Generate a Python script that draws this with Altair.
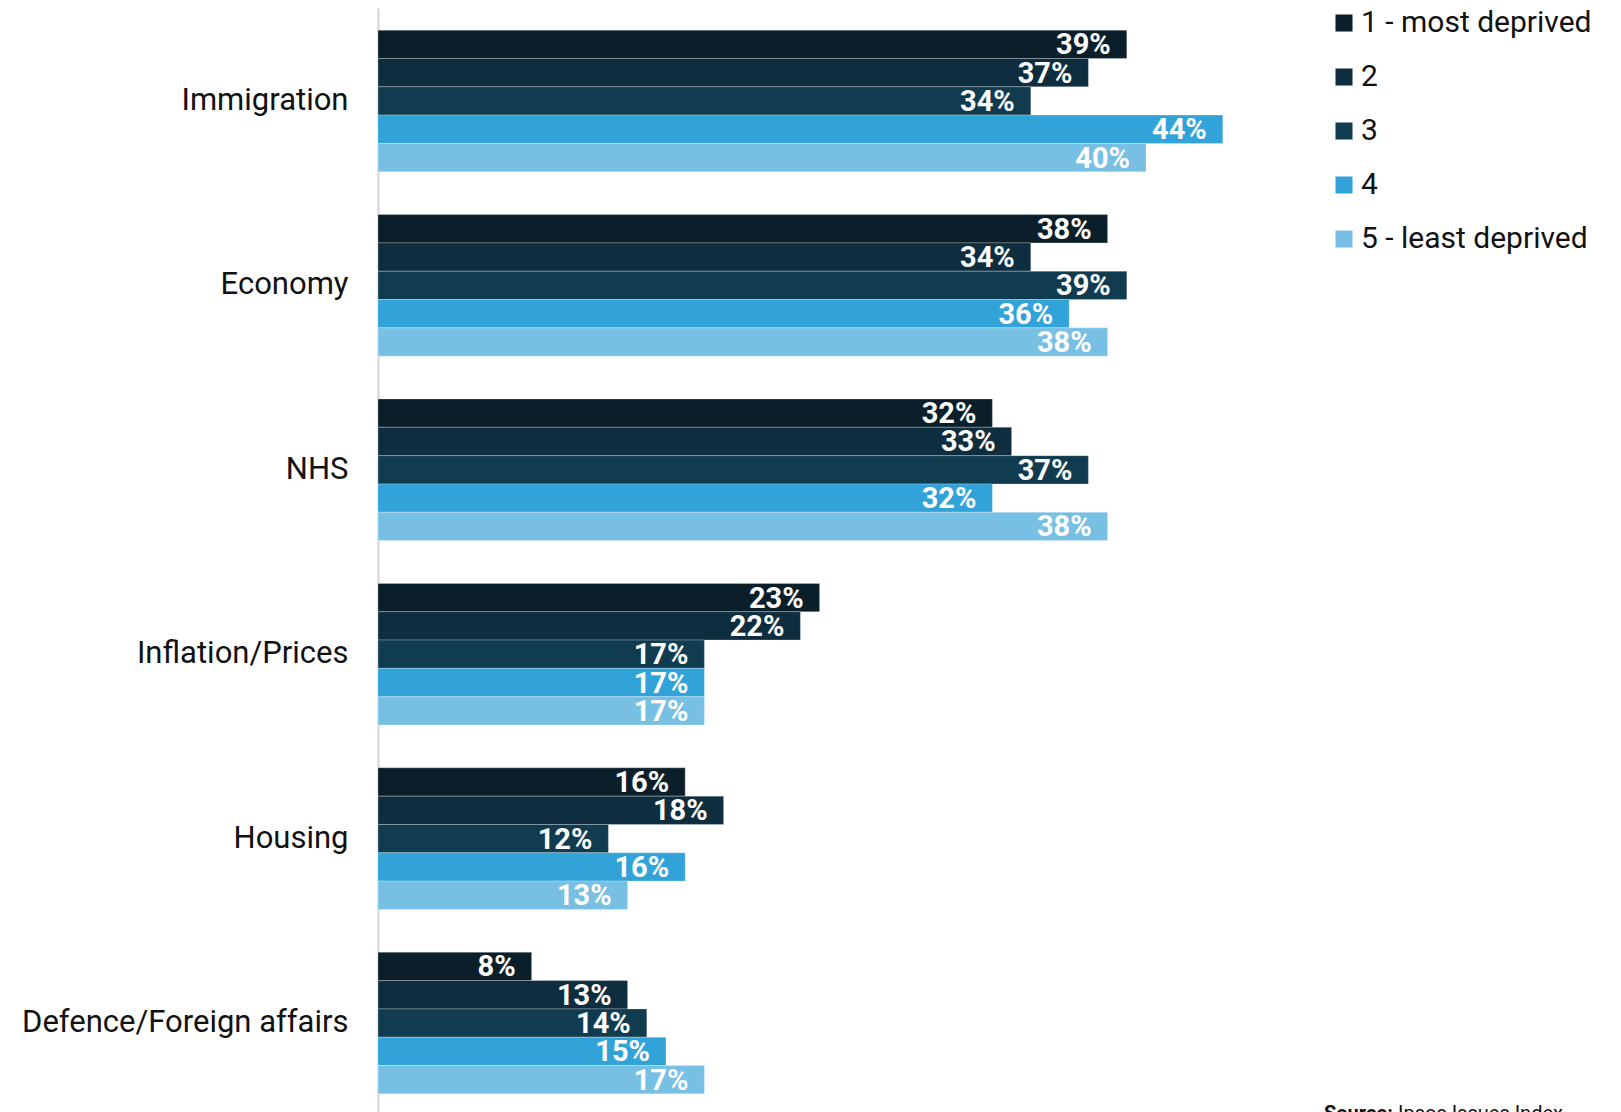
import altair as alt
import pandas as pd

categories = ["Immigration", "Economy", "NHS", "Inflation/Prices", "Housing", "Defence/Foreign affairs"]
groups = ["1 - most deprived", "2", "3", "4", "5 - least deprived"]
colors = ["#0b1f2a", "#0e2d3f", "#113c50", "#31a3d8", "#77c0e4"]

g1 = [39, 38, 32, 23, 16, 8]
g2 = [37, 34, 33, 22, 18, 13]
g3 = [34, 39, 37, 17, 12, 14]
g4 = [44, 36, 32, 17, 16, 15]
g5 = [40, 38, 38, 17, 13, 17]
series = [g1, g2, g3, g4, g5]

rows = []
for gname, vals in zip(groups, series):
    for cat, v in zip(categories, vals):
        rows.append({"category": cat, "group": gname, "value": v, "label": f"{v}%"})
df = pd.DataFrame(rows)

FONT = "Roboto"

y_enc = alt.Y(
    "category:N",
    sort=categories,
    scale=alt.Scale(paddingInner=0.232, paddingOuter=0.12),
    axis=alt.Axis(
        title=None, labelFontSize=31, labelFont=FONT, labelColor="#111111",
        labelPadding=30, labelLimit=500, ticks=False, domainColor="#d4d4d4", domainWidth=2,
    ),
)
yoff = alt.YOffset("group:N", sort=groups, scale=alt.Scale(paddingInner=0, paddingOuter=0))
x_enc = alt.X("value:Q", scale=alt.Scale(domain=[0, 45], nice=False), axis=None)

bars = alt.Chart(df).mark_bar(stroke="#ffffff", strokeWidth=1, strokeOpacity=0.25).encode(
    y=y_enc,
    yOffset=yoff,
    x=x_enc,
    color=alt.Color(
        "group:N", sort=groups,
        scale=alt.Scale(domain=groups, range=colors),
        legend=alt.Legend(
            title=None, orient="none", legendX=951, legendY=0,
            symbolType="square", symbolSize=290, symbolStrokeWidth=0,
            labelFontSize=30, labelFont=FONT, labelColor="#111111",
            labelOffset=2, rowPadding=24, padding=0, labelLimit=400,
        ),
    ),
)

labels = alt.Chart(df).mark_text(
    align="right", baseline="middle", dx=-16, dy=1, fontWeight="bold",
    fontSize=29, font=FONT, color="white",
).encode(y=y_enc, yOffset=yoff, x=x_enc, text="label:N")

src_bold = ["Source:"]
src_rest = ["Ipsos Issues Index"]
s1 = alt.Chart(pd.DataFrame({"t": src_bold})).mark_text(
    align="left", baseline="alphabetic", fontWeight="bold", fontSize=20, font=FONT, color="#111111"
).encode(x=alt.value(946), y=alt.value(1112), text="t:N")
s2 = alt.Chart(pd.DataFrame({"t": src_rest})).mark_text(
    align="left", baseline="alphabetic", fontSize=20, font=FONT, color="#111111"
).encode(x=alt.value(1020), y=alt.value(1112), text="t:N")

chart = alt.layer(bars, labels, s1, s2).properties(
    width=864, height=1108,
    autosize=alt.AutoSizeParams(type="none"),
    padding={"left": 370, "top": 0, "right": 356, "bottom": 0},
).configure_view(stroke=None)

chart.save("out.html", embed_options={"renderer": "svg", "actions": False})
